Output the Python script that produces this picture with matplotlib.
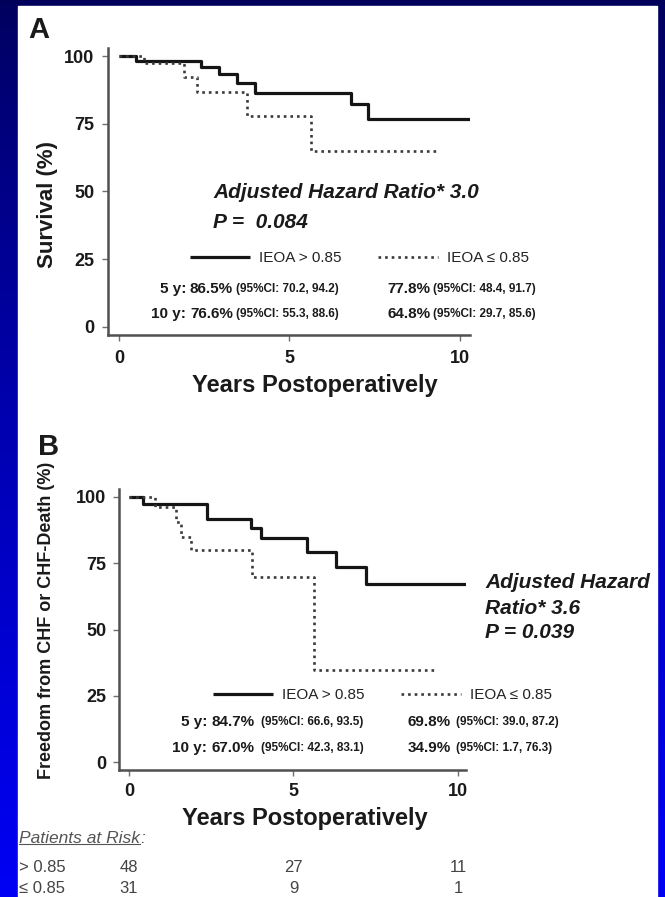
import numpy as np
import matplotlib.pyplot as plt
from matplotlib.patches import Rectangle
from matplotlib.transforms import blended_transform_factory

plt.rcParams['font.family'] = ['Liberation Sans', 'DejaVu Sans']

W, H = 665, 897

# Panel A: survival (Kaplan-Meier steps)
a_solid_years = [0, 0.5, 2.4, 2.95, 3.45, 4.0, 6.8, 7.3, 10.3]
a_solid_surv = [100, 98.2, 96.1, 93.3, 90.0, 86.5, 82.3, 76.6, 76.6]
a_dot_years = [0, 0.73, 1.9, 2.28, 3.75, 5.65, 9.4]
a_dot_surv = [100, 97.3, 92.4, 86.8, 77.8, 64.8, 64.8]

# Panel B: freedom from CHF or CHF-death
b_solid_years = [0, 0.43, 2.37, 3.7, 4.0, 5.4, 6.3, 7.2, 10.25]
b_solid_surv = [100, 97.4, 91.7, 88.3, 84.7, 79.2, 73.6, 67.0, 67.0]
b_dot_years = [0, 0.79, 1.43, 1.58, 1.88, 3.75, 5.62, 9.36]
b_dot_surv = [100, 96.3, 90.6, 85.0, 80.0, 69.8, 34.9, 34.9]

groups = ["IEOA > 0.85", "IEOA \u2264 0.85"]
row_labels = ["5 y:", "10 y:"]
a_solid_est = ["86.5%", "76.6%"]
a_solid_ci = ["(95%CI: 70.2, 94.2)", "(95%CI: 55.3, 88.6)"]
a_dot_est = ["77.8%", "64.8%"]
a_dot_ci = ["(95%CI: 48.4, 91.7)", "(95%CI: 29.7, 85.6)"]
b_solid_est = ["84.7%", "67.0%"]
b_solid_ci = ["(95%CI: 66.6, 93.5)", "(95%CI: 42.3, 83.1)"]
b_dot_est = ["69.8%", "34.9%"]
b_dot_ci = ["(95%CI: 39.0, 87.2)", "(95%CI: 1.7, 76.3)"]

risk_years = [0, 5, 10]
risk_groups = ["> 0.85", "\u2264 0.85"]
risk_high = [48, 27, 11]
risk_low = [31, 9, 1]

x_ticks = [0, 5, 10]
y_ticks = [0, 25, 50, 75, 100]


def fx(px):
    return px / W


def fy(py):
    return 1 - py / H


fig = plt.figure(figsize=(W / 100, H / 100), dpi=100)

# blue slide background with white panel
bg = fig.add_axes([0, 0, 1, 1])
g = np.linspace(0, 1, 256) ** 0.8
grad = np.zeros((256, 1, 3))
grad[:, 0, 2] = 0.36 + 0.6 * g
bg.imshow(grad, extent=[0, 1, 0, 1], aspect='auto', origin='upper')
bg.add_patch(Rectangle((fx(18), 0), fx(657) - fx(18), fy(6), color='white'))
bg.set_xlim(0, 1)
bg.set_ylim(0, 1)
bg.axis('off')

TXT = '#1a1a1a'
SOLID = dict(color='#151515', lw=2.3, drawstyle='steps-post', solid_capstyle='butt')
DOT = dict(color='#3a3a3a', lw=1.9, drawstyle='steps-post', linestyle=(0, (1, 1.5)))


def km_axes(rect, xlim, sy, dy, sx, dx, ypad, xpad):
    ax = fig.add_axes(rect)
    ax.patch.set_alpha(0)
    ax.plot(sx, sy, **SOLID)
    ax.plot(dx, dy, **DOT)
    ax.set_xlim(*xlim)
    ax.set_ylim(-3, 103)
    ax.set_xticks(x_ticks)
    ax.set_yticks(y_ticks)
    for s in ['top', 'right']:
        ax.spines[s].set_visible(False)
    for s in ['left', 'bottom']:
        ax.spines[s].set_color('#505050')
        ax.spines[s].set_linewidth(1.8)
    ax.tick_params(axis='y', length=4, width=1, color='#707070', pad=ypad,
                   labelsize=13, labelcolor=TXT)
    ax.tick_params(axis='x', length=4, width=1, color='#707070', pad=xpad,
                   labelsize=13, labelcolor=TXT)
    for lbl in ax.get_xticklabels() + ax.get_yticklabels():
        lbl.set_fontweight('bold')
    return ax


# ---- Panel A ----
axA = km_axes([fx(108), fy(335), fx(470) - fx(108), fy(48) - fy(335)],
              (-0.32, 10.3), a_solid_surv, a_dot_surv, a_solid_years, a_dot_years, 6, 7)
fig.text(fx(28), fy(30), "A", fontsize=21, fontweight='bold', color=TXT, va='center')
fig.text(fx(47), fy(204), "Survival (%)", rotation=90, fontsize=16, fontweight='bold',
         color=TXT, ha='center', va='center')
fig.text(fx(315), fy(385), "Years Postoperatively", fontsize=17, fontweight='bold',
         color=TXT, ha='center', va='center')
fig.text(fx(213), fy(193), "Adjusted Hazard Ratio* 3.0", fontsize=15, fontweight='bold',
         style='italic', color=TXT, va='center')
fig.text(fx(213), fy(222), "P =  0.084", fontsize=15, fontweight='bold',
         style='italic', color=TXT, va='center')

# ---- Panel B ----
axB = km_axes([fx(119), fy(770), fx(466) - fx(119), fy(489) - fy(770)],
              (-0.30, 10.24), b_solid_surv, b_dot_surv, b_solid_years, b_dot_years, 5, 5)
fig.text(fx(38), fy(447), "B", fontsize=21, fontweight='bold', color=TXT, va='center')
fig.text(fx(47), fy(620), "Freedom from CHF or CHF-Death (%)", rotation=90, fontsize=13,
         fontweight='bold', color=TXT, ha='center', va='center')
fig.text(fx(305), fy(818), "Years Postoperatively", fontsize=17, fontweight='bold',
         color=TXT, ha='center', va='center')
for i, line in enumerate(["Adjusted Hazard", "Ratio* 3.6", "P = 0.039"]):
    fig.text(fx(485), fy(583 + 25 * i), line, fontsize=15, fontweight='bold',
             style='italic', color=TXT, va='center')


def legend_and_stats(ax, x0, ly, lab_r, v1, c1, v2, c2, rows_y, s_est, s_ci, d_est, d_ci):
    h = ax.get_lines()
    ax.legend(h, groups, ncol=2, loc='center left', bbox_to_anchor=(fx(x0), fy(ly)),
              bbox_transform=fig.transFigure, frameon=False, handlelength=3.9,
              handletextpad=0.6, columnspacing=2.4, borderpad=0, borderaxespad=0,
              prop=dict(size=11), labelcolor='#222222')
    for i, yy in enumerate(rows_y):
        fig.text(fx(lab_r), fy(yy), row_labels[i], fontsize=11, fontweight='bold',
                 color=TXT, ha='right', va='center')
        fig.text(fx(v1), fy(yy), s_est[i], fontsize=11, fontweight='bold', color=TXT, va='center')
        fig.text(fx(c1), fy(yy), s_ci[i], fontsize=8.5, fontweight='bold', color=TXT, va='center')
        fig.text(fx(v2), fy(yy), d_est[i], fontsize=11, fontweight='bold', color=TXT, va='center')
        fig.text(fx(c2), fy(yy), d_ci[i], fontsize=8.5, fontweight='bold', color=TXT, va='center')


legend_and_stats(axA, 190, 258, 186, 190, 236, 387, 433, [289, 314],
                 a_solid_est, a_solid_ci, a_dot_est, a_dot_ci)
legend_and_stats(axB, 213, 695, 207, 212, 261, 408, 456, [722, 748],
                 b_solid_est, b_solid_ci, b_dot_est, b_dot_ci)

# patients at risk table under panel B
renderer = fig.canvas.get_renderer()
par = fig.text(fx(19), fy(838), "Patients at Risk", fontsize=12.5, style='italic',
               color='#555555', va='center')
bb = par.get_window_extent(renderer)
fig.text(bb.x1 / W, fy(838), ":", fontsize=12.5, style='italic', color='#555555', va='center')
fig.add_artist(plt.Line2D([bb.x0 / W, bb.x1 / W], [bb.y0 / H + 0.002, bb.y0 / H + 0.002],
                          color='#555555', lw=0.8))
trB = blended_transform_factory(axB.transData, fig.transFigure)
for yy, grp, counts in [(867, risk_groups[0], risk_high), (888, risk_groups[1], risk_low)]:
    fig.text(fx(19), fy(yy), grp, fontsize=12, color='#444444', va='center')
    for t, n in zip(risk_years, counts):
        fig.text(t, fy(yy), str(n), transform=trB, fontsize=12, color='#444444',
                 ha='center', va='center')

fig.savefig('out.png', dpi=100)
